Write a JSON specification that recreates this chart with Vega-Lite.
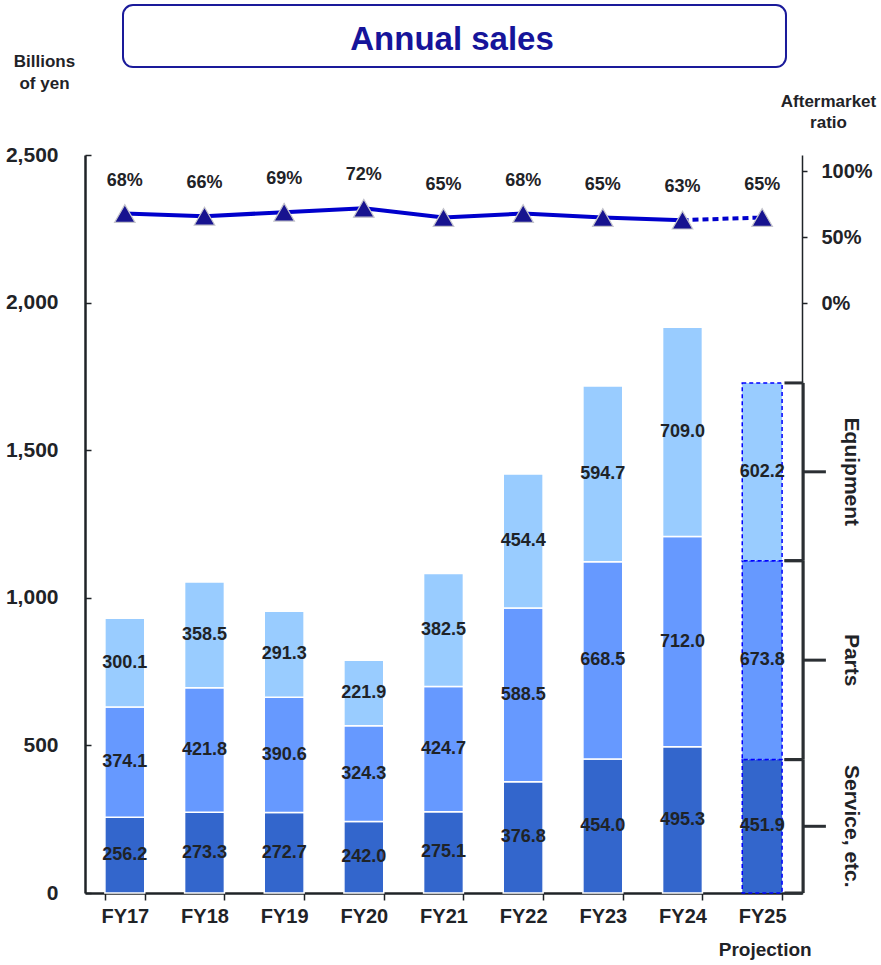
{
  "$schema": "https://vega.github.io/schema/vega-lite/v6.json",
  "width": 717,
  "height": 738,
  "autosize": {"type": "none"},
  "padding": {"left": 85, "top": 155, "right": 79, "bottom": 72},
  "background": "white",
  "config": {"view": {"stroke": null}, "font": "Liberation Sans"},
  "datasets": {
    "sales": [
      {"year": "FY17", "segment": "Service, etc.", "value": 256.2},
      {"year": "FY17", "segment": "Parts", "value": 374.1},
      {"year": "FY17", "segment": "Equipment", "value": 300.1},
      {"year": "FY18", "segment": "Service, etc.", "value": 273.3},
      {"year": "FY18", "segment": "Parts", "value": 421.8},
      {"year": "FY18", "segment": "Equipment", "value": 358.5},
      {"year": "FY19", "segment": "Service, etc.", "value": 272.7},
      {"year": "FY19", "segment": "Parts", "value": 390.6},
      {"year": "FY19", "segment": "Equipment", "value": 291.3},
      {"year": "FY20", "segment": "Service, etc.", "value": 242.0},
      {"year": "FY20", "segment": "Parts", "value": 324.3},
      {"year": "FY20", "segment": "Equipment", "value": 221.9},
      {"year": "FY21", "segment": "Service, etc.", "value": 275.1},
      {"year": "FY21", "segment": "Parts", "value": 424.7},
      {"year": "FY21", "segment": "Equipment", "value": 382.5},
      {"year": "FY22", "segment": "Service, etc.", "value": 376.8},
      {"year": "FY22", "segment": "Parts", "value": 588.5},
      {"year": "FY22", "segment": "Equipment", "value": 454.4},
      {"year": "FY23", "segment": "Service, etc.", "value": 454.0},
      {"year": "FY23", "segment": "Parts", "value": 668.5},
      {"year": "FY23", "segment": "Equipment", "value": 594.7},
      {"year": "FY24", "segment": "Service, etc.", "value": 495.3},
      {"year": "FY24", "segment": "Parts", "value": 712.0},
      {"year": "FY24", "segment": "Equipment", "value": 709.0},
      {"year": "FY25", "segment": "Service, etc.", "value": 451.9},
      {"year": "FY25", "segment": "Parts", "value": 673.8},
      {"year": "FY25", "segment": "Equipment", "value": 602.2}
    ],
    "ratio": [
      {"year": "FY17", "ratio": 0.68},
      {"year": "FY18", "ratio": 0.66},
      {"year": "FY19", "ratio": 0.69},
      {"year": "FY20", "ratio": 0.72},
      {"year": "FY21", "ratio": 0.65},
      {"year": "FY22", "ratio": 0.68},
      {"year": "FY23", "ratio": 0.65},
      {"year": "FY24", "ratio": 0.63},
      {"year": "FY25", "ratio": 0.65}
    ]
  },
  "resolve": {"scale": {"x": "independent", "y": "independent"}},
  "layer": [
    {
      "data": {"name": "sales"},
      "layer": [
        {
          "mark": {"type": "bar", "strokeWidth": 1.5},
          "encoding": {
            "x": {
              "field": "year", "type": "nominal",
              "scale": {"type": "band", "domain": ["FY17","FY18","FY19","FY20","FY21","FY22","FY23","FY24","FY25"], "paddingInner": 0.5, "paddingOuter": 0.25},
              "axis": {
                "title": null, "labelAngle": 0, "labelFontSize": 20, "labelFontWeight": "bold", "labelColor": "#1f2327",
                "labelPadding": 6, "tickBand": "extent", "tickSize": 7, "tickColor": "#1f2327", "tickWidth": 1.5,
                "domainColor": "#1f2327", "domainWidth": 2.5
              }
            },
            "y": {
              "field": "value", "type": "quantitative", "stack": "zero",
              "scale": {"domain": [0, 2500], "nice": false, "zero": true},
              "axis": {
                "values": [0, 500, 1000, 1500, 2000, 2500], "format": ",d", "grid": false,
                "labelFontSize": 21, "labelFontWeight": "bold", "labelColor": "#1f2327", "labelPadding": 33,
                "tickSize": -6, "tickColor": "#1f2327", "tickWidth": 1.5, "domainColor": "#1f2327", "domainWidth": 2.5,
                "title": ["Billions", "of yen"], "titleAngle": 0, "titleAlign": "center", "titleBaseline": "alphabetic",
                "titleX": -41, "titleY": -89, "titleFontSize": 17, "titleFontWeight": "bold", "titleColor": "#1f2327", "titleLineHeight": 22
              }
            },
            "color": {
              "field": "segment", "type": "nominal",
              "scale": {"domain": ["Service, etc.", "Parts", "Equipment"], "range": ["#3366CC", "#6699FF", "#99CCFF"]},
              "legend": null
            },
            "order": {"field": "segment", "sort": "descending"},
            "stroke": {"condition": {"test": "datum.year === 'FY25'", "value": "#0000FF"}, "value": "#FFFFFF"},
            "strokeDash": {"condition": {"test": "datum.year === 'FY25'", "value": [4, 3]}, "value": [1, 0]}
          }
        },
        {
          "transform": [
            {"stack": "value", "groupby": ["year"], "sort": [{"field": "segment", "order": "descending"}], "as": ["y0", "y1"]},
            {"fold": ["y0", "y1"], "as": ["edge", "yv"]}
          ],
          "mark": {"type": "text", "fontSize": 18, "fontWeight": "bold", "color": "#1f2327", "baseline": "middle", "align": "center"},
          "encoding": {
            "x": {"field": "year", "type": "nominal"},
            "y": {"aggregate": "mean", "field": "yv", "type": "quantitative"},
            "detail": {"field": "segment"},
            "text": {"field": "value", "type": "quantitative", "format": ".1f"}
          }
        },
        {
          "data": {"values": [{"year": "FY25", "note": "Projection"}]},
          "mark": {"type": "text", "fontSize": 19, "fontWeight": "bold", "color": "#1f2327", "baseline": "middle", "align": "center", "dy": 57, "dx": 3},
          "encoding": {
            "x": {"field": "year", "type": "nominal"},
            "y": {"datum": 0, "type": "quantitative"},
            "text": {"field": "note"}
          }
        }
      ]
    },
    {
      "data": {"name": "ratio"},
      "encoding": {
        "x": {
          "field": "year", "type": "nominal",
          "scale": {"type": "band", "domain": ["FY17","FY18","FY19","FY20","FY21","FY22","FY23","FY24","FY25"], "paddingInner": 0.5, "paddingOuter": 0.25},
          "axis": null
        },
        "y": {
          "field": "ratio", "type": "quantitative",
          "scale": {"domain": [-4.467, 1.1235], "nice": false, "zero": false},
          "axis": {
            "orient": "right", "values": [0, 0.5, 1], "format": ".0%", "grid": false,
            "labelFontSize": 20, "labelFontWeight": "bold", "labelColor": "#1f2327", "labelPadding": 14,
            "tickSize": 5, "tickColor": "#1f2327", "tickWidth": 1.5, "domainColor": "#1f2327", "domainWidth": 1.5,
            "title": ["Aftermarket", "ratio"], "titleAngle": 0, "titleAlign": "center", "titleBaseline": "alphabetic",
            "titleX": 26, "titleY": -49, "titleFontSize": 17, "titleFontWeight": "bold", "titleColor": "#1f2327", "titleLineHeight": 21
          }
        }
      },
      "layer": [
        {
          "transform": [{"filter": "datum.year !== 'FY25'"}],
          "mark": {"type": "line", "color": "#0000CC", "strokeWidth": 4}
        },
        {
          "transform": [{"filter": "datum.year === 'FY24' || datum.year === 'FY25'"}],
          "mark": {"type": "line", "color": "#0000CC", "strokeWidth": 4, "strokeDash": [6, 4]}
        },
        {
          "mark": {"type": "point", "shape": "triangle-up", "filled": true, "size": 420, "fill": "#17138F", "stroke": "#C4C4CC", "strokeWidth": 1.2, "opacity": 1}
        },
        {
          "mark": {"type": "text", "fontSize": 18, "fontWeight": "bold", "color": "#1f2327", "baseline": "middle", "align": "center", "dy": -33},
          "encoding": {"text": {"field": "ratio", "type": "quantitative", "format": ".0%"}}
        }
      ]
    },
    {
      "layer": [
        {
          "data": {"values": [{"title": "Annual sales"}]},
          "mark": {"type": "rect", "cornerRadius": 10, "fill": "white", "fillOpacity": 0, "stroke": "#1A1A9A", "strokeWidth": 2},
          "encoding": {
            "x": {"datum": 0.477, "type": "quantitative", "scale": {"domain": [0, 9], "nice": false, "zero": false}, "axis": null},
            "x2": {"datum": 8.799},
            "y": {"datum": 3008, "type": "quantitative", "scale": {"domain": [0, 2500], "nice": false}, "axis": null},
            "y2": {"datum": 2798}
          }
        },
        {
          "data": {"values": [{"title": "Annual sales"}]},
          "mark": {"type": "text", "fontSize": 33, "fontWeight": "bold", "color": "#16149A", "baseline": "middle", "align": "center"},
          "encoding": {
            "x": {"datum": 4.607, "type": "quantitative"},
            "y": {"datum": 2890, "type": "quantitative"},
            "text": {"field": "title"}
          }
        },
        {
          "data": {"name": "sales"},
          "transform": [
            {"filter": "datum.year === 'FY25'"},
            {"stack": "value", "groupby": ["year"], "sort": [{"field": "segment", "order": "descending"}], "as": ["y0", "y1"]}
          ],
          "mark": {"type": "rule", "color": "#2b2f33", "strokeWidth": 3},
          "encoding": {
            "x": {"datum": 9.015, "type": "quantitative"},
            "y": {"field": "y0", "type": "quantitative"},
            "y2": {"field": "y1"}
          }
        },
        {
          "data": {"name": "sales"},
          "transform": [
            {"filter": "datum.year === 'FY25'"},
            {"stack": "value", "groupby": ["year"], "sort": [{"field": "segment", "order": "descending"}], "as": ["y0", "y1"]},
            {"fold": ["y0", "y1"], "as": ["edge", "yv"]}
          ],
          "mark": {"type": "rule", "color": "#2b2f33", "strokeWidth": 3},
          "encoding": {
            "x": {"datum": 8.78, "type": "quantitative"},
            "x2": {"datum": 9.015},
            "y": {"field": "yv", "type": "quantitative"}
          }
        },
        {
          "data": {"name": "sales"},
          "transform": [
            {"filter": "datum.year === 'FY25'"},
            {"stack": "value", "groupby": ["year"], "sort": [{"field": "segment", "order": "descending"}], "as": ["y0", "y1"]},
            {"fold": ["y0", "y1"], "as": ["edge", "yv"]}
          ],
          "mark": {"type": "rule", "color": "#2b2f33", "strokeWidth": 3},
          "encoding": {
            "x": {"datum": 9.015, "type": "quantitative"},
            "x2": {"datum": 9.3},
            "y": {"aggregate": "mean", "field": "yv", "type": "quantitative"},
            "detail": {"field": "segment"}
          }
        },
        {
          "data": {"name": "sales"},
          "transform": [
            {"filter": "datum.year === 'FY25'"},
            {"stack": "value", "groupby": ["year"], "sort": [{"field": "segment", "order": "descending"}], "as": ["y0", "y1"]},
            {"fold": ["y0", "y1"], "as": ["edge", "yv"]}
          ],
          "mark": {"type": "text", "angle": 90, "fontSize": 21, "fontWeight": "bold", "color": "#1f2327", "baseline": "middle", "align": "center"},
          "encoding": {
            "x": {"datum": 9.62, "type": "quantitative"},
            "y": {"aggregate": "mean", "field": "yv", "type": "quantitative"},
            "text": {"field": "segment"}
          }
        }
      ]
    }
  ]
}
